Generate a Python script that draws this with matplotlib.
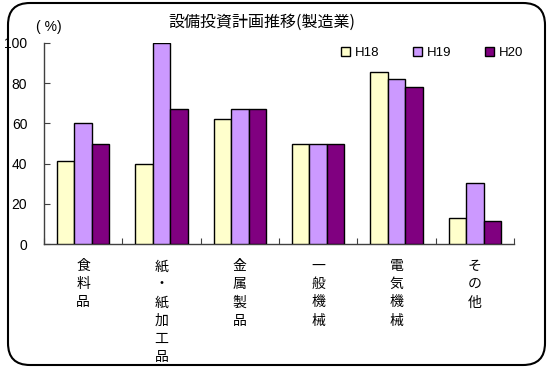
import matplotlib
matplotlib.use("Agg")
import matplotlib.pyplot as plt
import numpy as np
from matplotlib.patches import FancyBboxPatch, Patch

plt.rcParams['font.family'] = ['Liberation Sans', 'Noto Sans CJK JP', 'DejaVu Sans']

categories = ["食料品", "紙・紙加工品", "金属製品", "一般機械", "電気機械", "その他"]
series_names = ["H18", "H19", "H20"]
h18 = [41.5, 40, 62, 50, 85.5, 13]
h19 = [60, 100, 67, 50, 82, 30.5]
h20 = [50, 67, 67, 50, 78, 11.5]
yticks = [0, 20, 40, 60, 80, 100]
colors = ["#FFFFCC", "#CC99FF", "#800080"]

W, H = 547, 370
fig = plt.figure(figsize=(W / 100, H / 100), dpi=100)
ax = fig.add_axes([44 / W, 1 - 244 / H, (514 - 44) / W, (244 - 43) / H])

x = np.arange(len(categories))
bw = 1 / 4.5
for i, (vals, c, name) in enumerate(zip([h18, h19, h20], colors, series_names)):
    ax.bar(x + (i - 1) * bw, vals, bw, color=c, edgecolor="black", linewidth=1.0,
           label=name, zorder=3)

ax.set_xlim(-0.5, len(categories) - 0.5)
ax.set_ylim(0, 100)
ax.set_yticks(yticks)
ax.set_yticklabels([str(t) for t in yticks], fontsize=10)
ax.tick_params(axis='y', direction='in', length=4, pad=12, color='#404040')
ax.set_xticks(np.arange(len(categories) + 1) - 0.5)
ax.set_xticklabels([])
ax.tick_params(axis='x', direction='in', length=4, color='#404040')
for s in ['top', 'right']:
    ax.spines[s].set_visible(False)
for s in ['left', 'bottom']:
    ax.spines[s].set_color('#404040')
    ax.spines[s].set_linewidth(1.0)

# vertical category labels
for xi, cat in zip(x, categories):
    ax.text(xi, -0.075, "\n".join(cat), transform=ax.get_xaxis_transform(),
            ha='center', va='top', fontsize=10, linespacing=1.38,
            family=['Noto Sans CJK JP', 'DejaVu Sans'])

fig.text(262 / W, 1 - 22 / H, "設備投資計画推移(製造業)", ha='center', va='center',
         fontsize=11.5, family=['Noto Sans CJK JP', 'DejaVu Sans'])
fig.text(49 / W, 1 - 27 / H, "( %)", ha='center', va='center', fontsize=10)

handles = [Patch(facecolor=c, edgecolor='black', linewidth=1.0) for c in colors]
fig.legend(handles, series_names, loc='center', bbox_to_anchor=(432 / W, 1 - 53 / H),
           ncol=3, frameon=False, fontsize=9.5, handlelength=0.7, handleheight=0.7,
           handletextpad=0.3, columnspacing=2.6)

frame = FancyBboxPatch((8 / W, 5 / H), (537 / W), (362 / H),
                       boxstyle="round,pad=0,rounding_size=0.04",
                       transform=fig.transFigure, fill=False, edgecolor='black',
                       linewidth=1.5, mutation_aspect=W / H)
fig.patches.append(frame)

fig.savefig("out.png", dpi=100)
